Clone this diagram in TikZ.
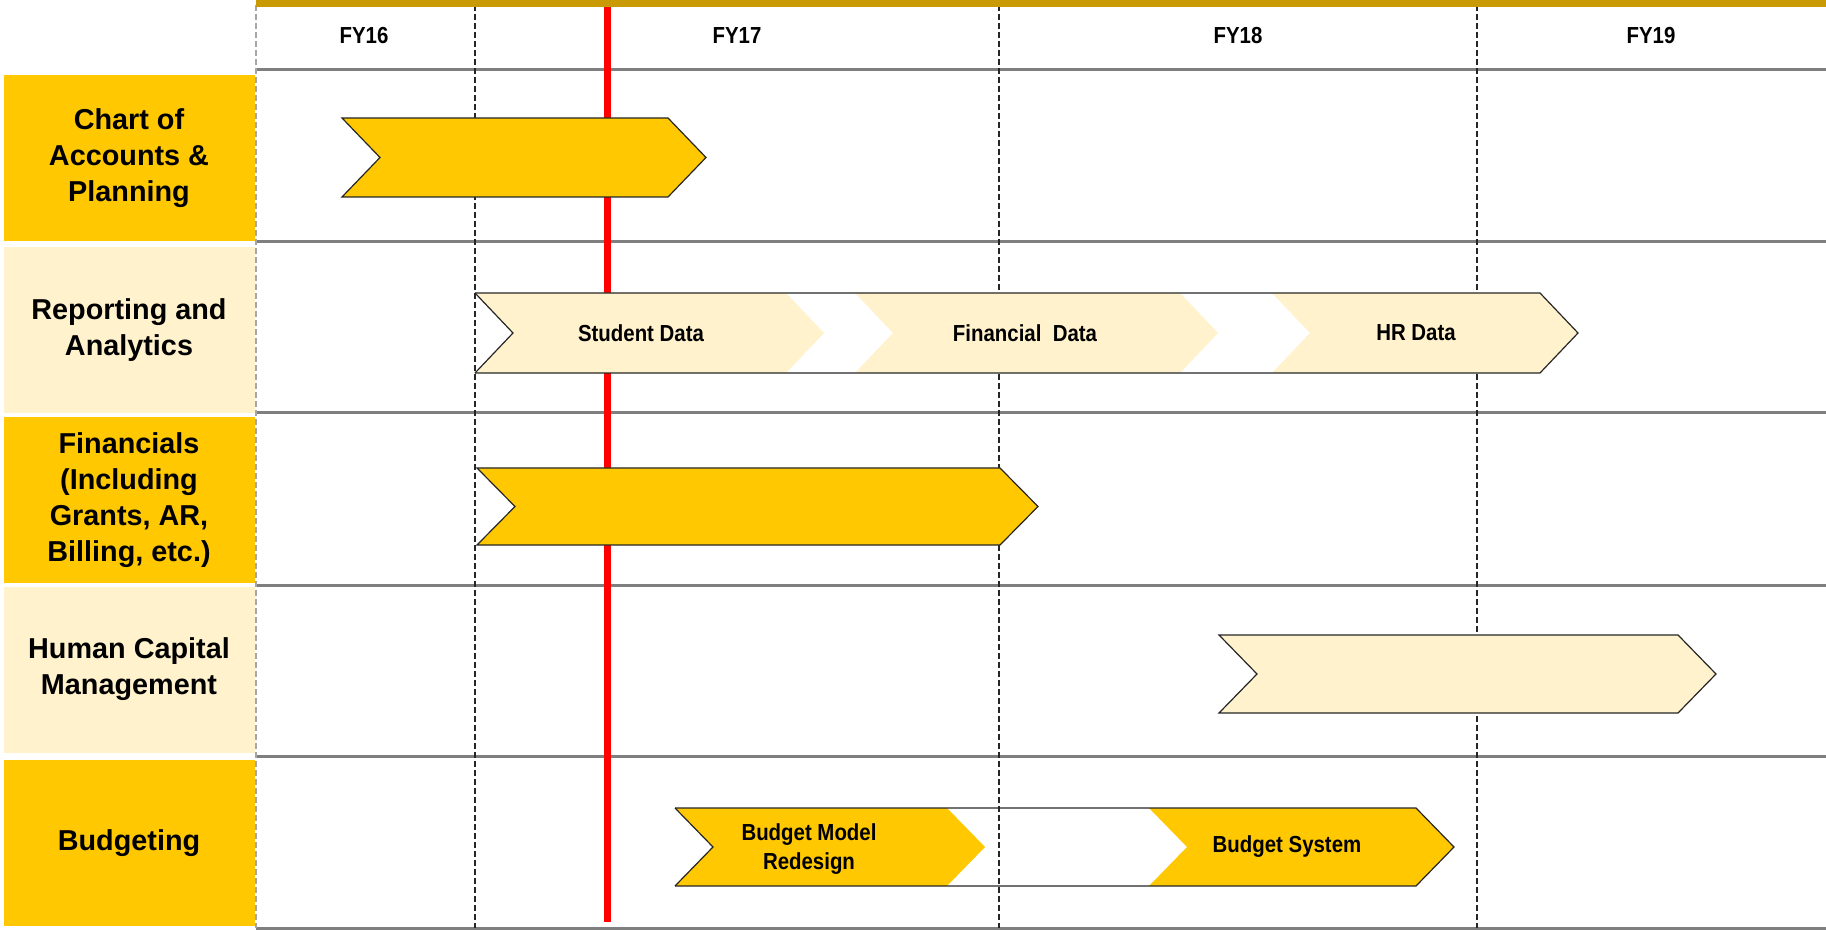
\documentclass[tikz,border=0pt]{standalone}
\usepackage{fontspec}
\setmainfont{Liberation Sans}
\newfontfamily\narrowfont{Liberation Sans}[FakeStretch=0.88]
\definecolor{gold}{HTML}{FFC800}
\definecolor{cream}{HTML}{FFF2CC}
\definecolor{topline}{HTML}{C99A06}
\definecolor{rulegray}{HTML}{7F7F7F}
\newcommand\chevfill[5]{\path[#1] (#2,#4) -- ({#3-38},#4) -- (#3,{(#4+#5)/2}) -- ({#3-38},#5) -- (#2,#5) -- ({#2+38},{(#4+#5)/2}) -- cycle;}
\begin{document}
\begin{tikzpicture}[x=0.5pt,y=-0.5pt,
  lab/.style={minimum width=125.5pt, minimum height=83pt, inner sep=0pt, align=center,
    font=\fontsize{14.4}{17.9}\selectfont\bfseries},
  hdr/.style={font=\narrowfont\fontsize{11.6}{14}\selectfont\bfseries, inner sep=0pt},
  ctext/.style={font=\narrowfont\fontsize{11.6}{14.5}\selectfont\bfseries, align=center, inner sep=0pt},
  gridline/.style={rulegray, line width=1.5pt},
  vdash/.style={black!85, line width=1pt, dash pattern=on 3pt off 1.5pt},
  chevout/.style={draw=black!85, line width=0.6pt, line join=miter}]
\useasboundingbox (0,0) rectangle (1826,930);
\fill[white] (0,0) rectangle (1826,930);

% row label boxes
\node[lab, fill=gold]  (l1) at (129,158)   {Chart of\\Accounts \&\\Planning};
\node[lab, fill=cream] (l2) at (129,330)   {Reporting and\\Analytics};
\node[lab, fill=gold]  (l3) at (129,500)   {Financials\\(Including\\Grants, AR,\\Billing, etc.)};
\node[lab, fill=cream] (l4) at (129,669.5) {Human Capital\\Management};
\node[lab, fill=gold]  (l5) at (129,843)   {Budgeting};

% horizontal rules
\foreach \yy in {70,242,413,585,756,928}
  \draw[gridline] (256,\yy) -- (1826,\yy);

% vertical dashed lines
\draw[gray!70, line width=0.6pt, dash pattern=on 3pt off 1.5pt] (256,5) -- (256,928);
\foreach \xx in {475,999,1477}
  \draw[vdash] (\xx,5) -- (\xx,928);

% top gold line
\draw[topline, line width=3.5pt] (256,3.5) -- (1826,3.5);

% today line
\draw[red, line width=3.5pt] (607,7) -- (607,922);

% header
\node[hdr] (fy16) at (364,36)  {FY16};
\node[hdr] (fy17) at (737,36)  {FY17};
\node[hdr] (fy18) at (1238,36) {FY18};
\node[hdr] (fy19) at (1651,36) {FY19};

% row 1
\chevfill{fill=gold, chevout}{342}{706}{118}{197}
% row 2
\chevfill{fill=cream}{475}{824}{293}{373}
\chevfill{fill=cream}{855}{1218}{293}{373}
\chevfill{fill=cream}{1272}{1578}{293}{373}
\draw[chevout] (475,293) -- (1540,293) -- (1578,333) -- (1540,373) -- (475,373);
\draw[chevout] (475,293) -- (513,333) -- (475,373);
\node[ctext] (sd) at (641,333)  {Student Data};
\node[ctext] (fd) at (1025,333) {Financial\ \ Data};
\node[ctext] (hd) at (1416,333) {HR Data};
% row 3
\chevfill{fill=gold, chevout}{477}{1038}{468}{545}
% row 4
\chevfill{fill=cream, chevout}{1219}{1716}{635}{713}
% row 5
\chevfill{fill=gold}{675}{985}{808}{886}
\chevfill{fill=gold}{1149}{1454}{808}{886}
\draw[chevout] (675,808) -- (1416,808) -- (1454,847) -- (1416,886) -- (675,886);
\draw[chevout] (675,808) -- (713,847) -- (675,886);
\node[ctext] (bm) at (809,849)  {Budget Model\\Redesign};
\node[ctext] (bs) at (1287,847) {Budget System};
\end{tikzpicture}
\end{document}
